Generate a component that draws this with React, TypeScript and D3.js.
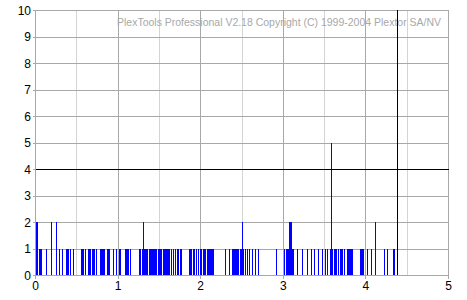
import React from "react";
import * as d3 from "d3";

// Blue error bars: [start minute, end minute, count]
const errorRuns: [number, number, number][] = [
  [0.012, 0.036, 2], [0.048, 0.085, 1], [0.133, 0.145, 1], [0.194, 0.206, 2],
  [0.254, 0.266, 2], [0.291, 0.303, 1], [0.327, 0.339, 1], [0.375, 0.412, 1],
  [0.424, 0.436, 1], [0.46, 0.472, 1], [0.557, 0.593, 1], [0.605, 0.617, 1],
  [0.642, 0.678, 1], [0.69, 0.726, 1], [0.739, 0.751, 1], [0.787, 0.847, 1],
  [0.872, 0.908, 1], [0.944, 0.956, 1], [0.981, 0.993, 1], [1.017, 1.041, 1],
  [1.09, 1.138, 1], [1.15, 1.162, 1], [1.259, 1.283, 1], [1.295, 1.308, 1],
  [1.308, 1.32, 2], [1.32, 1.368, 1], [1.38, 1.477, 1], [1.489, 1.538, 1],
  [1.55, 1.634, 1], [1.647, 1.659, 1], [1.671, 1.683, 1], [1.695, 1.707, 1],
  [1.719, 1.743, 1], [1.755, 1.78, 1], [1.864, 1.901, 1], [1.913, 1.937, 1],
  [1.949, 1.961, 1], [1.973, 1.986, 1], [1.998, 2.022, 1], [2.034, 2.07, 1],
  [2.082, 2.167, 1], [2.3, 2.312, 1], [2.349, 2.361, 1], [2.385, 2.47, 1],
  [2.482, 2.506, 1], [2.506, 2.518, 2], [2.518, 2.53, 1], [2.542, 2.555, 1],
  [2.567, 2.579, 1], [2.591, 2.603, 1], [2.627, 2.639, 1], [2.664, 2.676, 1],
  [2.7, 2.712, 1], [2.918, 2.93, 1], [3.015, 3.027, 1], [3.039, 3.075, 1],
  [3.075, 3.111, 2], [3.111, 3.136, 1], [3.172, 3.184, 1], [3.232, 3.245, 1],
  [3.293, 3.305, 1], [3.341, 3.354, 1], [3.378, 3.39, 1], [3.426, 3.438, 1],
  [3.475, 3.487, 1], [3.511, 3.523, 1], [3.535, 3.547, 1], [3.571, 3.584, 1],
  [3.584, 3.596, 5], [3.596, 3.608, 1], [3.62, 3.656, 1], [3.668, 3.68, 1],
  [3.692, 3.729, 1], [3.741, 3.753, 1], [3.777, 3.85, 1], [3.935, 3.971, 1],
  [3.971, 3.983, 1], [4.019, 4.031, 1], [4.068, 4.08, 1], [4.116, 4.128, 2],
  [4.225, 4.237, 1], [4.262, 4.274, 1], [4.334, 4.358, 1],
];

// Black marker bar: [start minute, end minute, value]
const markerRuns: [number, number, number][] = [[4.383, 4.395, 10]];

const thresholdValue = 4;
const xTicks = [0, 1, 2, 3, 4, 5];
const xMinorTicks = [0.5, 1.5, 2.5, 3.5, 4.5];
const yTicks = [0, 1, 2, 3, 4, 5, 6, 7, 8, 9, 10];
const titleText = "PlexTools Professional V2.18 Copyright (C) 1999-2004 Plextor SA/NV";

export default function App() {
  const W = 467, H = 300;
  const x = d3.scaleLinear().domain([0, 5]).range([35.5, 448.5]);
  const y = d3.scaleLinear().domain([0, 10]).range([275.5, 10.5]);
  const font = "'Liberation Sans', Arial, sans-serif";

  const barRect = (r: [number, number, number], color: string, i: number) => {
    const x0 = Math.round(x(r[0]) - 0.5);
    const w = Math.max(1, Math.round(x(r[1]) - x(r[0])));
    const y0 = Math.round(y(r[2]) - 0.5);
    const h = Math.round(y(0) - 0.5) - y0;
    return <rect key={i} x={x0} y={y0} width={w} height={h} fill={color} />;
  };

  return (
    <svg width={W} height={H} style={{ position: "absolute", left: 0, top: 0, background: "#fff" }}
      shapeRendering="crispEdges">
      <rect x={0} y={0} width={W} height={H} fill="#fff" />
      {xMinorTicks.map((t) => (
        <line key={"xm" + t} x1={x(t)} x2={x(t)} y1={y(10)} y2={y(0)} stroke="#d4d4d4" />
      ))}
      {xTicks.map((t) => (
        <line key={"x" + t} x1={x(t)} x2={x(t)} y1={y(10)} y2={y(0) + 3} stroke="#a8a8a8" />
      ))}
      {yTicks.map((t) => (
        <line key={"y" + t} x1={x(0) - 3} x2={x(5)} y1={y(t)} y2={y(t)} stroke="#a8a8a8" />
      ))}
      <text x={117} y={26} fontFamily={font} fontSize={11} fill="#a8a8a8"
        textLength={324} lengthAdjust="spacingAndGlyphs">{titleText}</text>
      {errorRuns.map((r, i) => barRect(r, "#0000ff", i))}
      <line x1={x(0)} x2={x(5)} y1={y(thresholdValue)} y2={y(thresholdValue)} stroke="#000" />
      {markerRuns.map((r, i) => barRect(r, "#000000", 1000 + i))}
      {yTicks.map((t) => (
        <text key={"yl" + t} x={31} y={y(t) + 4} textAnchor="end" fontFamily={font} fontSize={12} fill="#000">{t}</text>
      ))}
      {xTicks.map((t) => (
        <text key={"xl" + t} x={x(t)} y={290} textAnchor="middle" fontFamily={font} fontSize={12} fill="#000">{t}</text>
      ))}
    </svg>
  );
}
